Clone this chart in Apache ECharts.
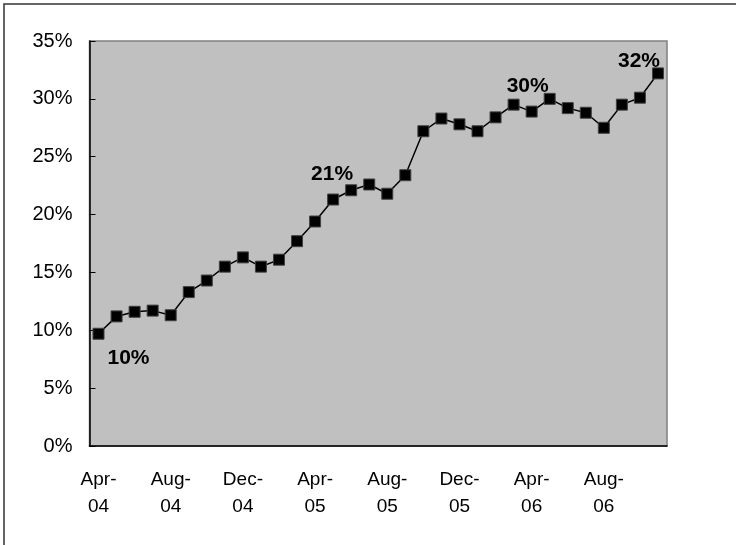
<!DOCTYPE html>
<html style="height: 100%">
<head>
<meta charset="utf-8">
<script src="https://cdn.jsdelivr.net/npm/echarts@6/dist/echarts.min.js"></script>
</head>
<body style="height: 100%; margin: 0; background: #fff">
<div id="container" style="width: 736px; height: 545px"></div>
<script>
// monthly, Apr-04 .. Nov-06
var months = ['Apr-04','May-04','Jun-04','Jul-04','Aug-04','Sep-04','Oct-04','Nov-04',
              'Dec-04','Jan-05','Feb-05','Mar-05','Apr-05','May-05','Jun-05','Jul-05',
              'Aug-05','Sep-05','Oct-05','Nov-05','Dec-05','Jan-06','Feb-06','Mar-06',
              'Apr-06','May-06','Jun-06','Jul-06','Aug-06','Sep-06','Oct-06','Nov-06'];
var share = [9.7, 11.2, 11.6, 11.7, 11.3, 13.3, 14.3, 15.5,
             16.3, 15.5, 16.1, 17.7, 19.4, 21.3, 22.1, 22.6,
             21.8, 23.4, 27.2, 28.3, 27.8, 27.2, 28.4, 29.5,
             28.9, 30.0, 29.2, 28.8, 27.5, 29.5, 30.1, 32.2];
// points that carry a value label
var labelled = [0, 13, 25, 31];
var labelOffsets = [[30, 24], [-1, -25], [-22, -13], [-19, -12]];

var font = 'Liberation Sans, Arial, sans-serif';

var seriesData = share.map(function (v, i) {
    var k = labelled.indexOf(i);
    if (k < 0) return v;
    return {
        value: v,
        label: {
            show: true,
            position: 'inside',
            offset: labelOffsets[k],
            formatter: Math.round(v) + '%',
            fontFamily: font,
            fontWeight: 'bold',
            fontSize: 21,
            color: '#000'
        }
    };
});

var myChart = echarts.init(document.getElementById('container'));
var option = {
    animation: false,
    backgroundColor: '#fff',
    graphic: [{
        type: 'rect',
        shape: { x: 4, y: 4, width: 800, height: 700 },
        style: { fill: 'none', stroke: '#333', lineWidth: 1.5 },
        silent: true
    }],
    grid: {
        left: 89.5, right: 69, top: 41, bottom: 99,
        containLabel: false,
        show: true,
        backgroundColor: '#c0c0c0',
        borderColor: '#808080',
        borderWidth: 1.5
    },
    xAxis: {
        type: 'category',
        data: months,
        boundaryGap: true,
        axisLine: { lineStyle: { color: '#000', width: 1.5 } },
        axisTick: { inside: true, length: 6, interval: 3, lineStyle: { color: '#000' } },
        axisLabel: {
            interval: 3,
            margin: 20,
            fontFamily: font,
            fontSize: 19,
            lineHeight: 27,
            color: '#000',
            formatter: function (s) { return s.replace('-', '-\n'); }
        },
        splitLine: { show: false }
    },
    yAxis: {
        type: 'value',
        min: 0, max: 35, interval: 5,
        axisLine: { show: true, lineStyle: { color: '#000', width: 1.5 } },
        axisTick: { show: true, inside: true, length: 6, lineStyle: { color: '#000' } },
        axisLabel: {
            margin: 17,
            fontFamily: font,
            fontSize: 20,
            color: '#000',
            formatter: '{value}%'
        },
        splitLine: { show: false }
    },
    series: [{
        type: 'line',
        data: seriesData,
        symbol: 'rect',
        symbolSize: 11,
        lineStyle: { color: '#000', width: 1.5 },
        itemStyle: { color: '#000', borderColor: '#404040', borderWidth: 1 }
    }]
};
myChart.setOption(option);
</script>
</body>
</html>
